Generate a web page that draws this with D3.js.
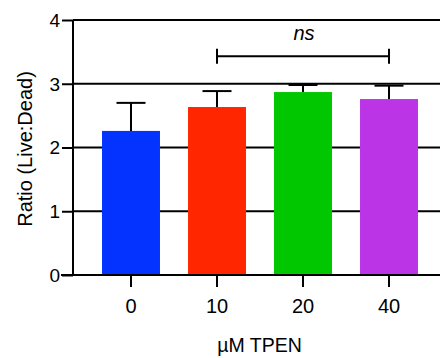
<!DOCTYPE html>
<html><head><meta charset="utf-8">
<script src="https://cdn.jsdelivr.net/npm/d3@7"></script>
<style>body{margin:0;background:#fff;} svg{display:block;}</style>
</head><body>
<svg id="c" width="440" height="358"></svg>
<script>
const categories = ["0", "10", "20", "40"];
const means = [2.26, 2.635, 2.87, 2.76];
const errors = [0.44, 0.25, 0.11, 0.21];
const colors = ["#0433ff", "#ff2600", "#00c700", "#bb35e6"];
const yTicks = [0, 1, 2, 3, 4];
const xTitle = "\u00b5M TPEN";
const yTitle = "Ratio (Live:Dead)";
const sigLabel = "ns";
const sigPair = ["10", "40"];

const svg = d3.select("#c");
const font = "Liberation Sans, Arial, sans-serif";
const x = d3.scaleBand().domain(categories).range([88, 432]).paddingInner(0.326).paddingOuter(0.163);
const y = d3.scaleLinear().domain([0, 4]).range([275, 20]);
const x0 = 73, xEnd = 440;

// gridlines
svg.append("g").selectAll("line").data(yTicks.slice(1)).join("line")
  .attr("x1", x0).attr("x2", xEnd).attr("y1", d => y(d)).attr("y2", d => y(d))
  .attr("stroke", "#000").attr("stroke-width", 2);

// bars
svg.append("g").selectAll("rect").data(categories).join("rect")
  .attr("x", d => x(d)).attr("width", x.bandwidth())
  .attr("y", (d, i) => y(means[i])).attr("height", (d, i) => y(0) - y(means[i]))
  .attr("fill", (d, i) => colors[i]);

// error bars
const eb = svg.append("g").attr("stroke", "#000").attr("stroke-width", 2);
categories.forEach((c, i) => {
  const cx = x(c) + x.bandwidth() / 2;
  eb.append("line").attr("x1", cx).attr("x2", cx).attr("y1", y(means[i])).attr("y2", y(means[i] + errors[i]));
  eb.append("line").attr("x1", cx - 14.5).attr("x2", cx + 14.5).attr("y1", y(means[i] + errors[i])).attr("y2", y(means[i] + errors[i]));
});

// y axis
const ya = svg.append("g").attr("transform", `translate(${x0},0)`)
  .call(d3.axisLeft(y).tickValues(yTicks).tickSize(11).tickPadding(2).tickFormat(d3.format("d")));
ya.select(".domain").attr("stroke-width", 2).attr("d", `M0,${y(0)}V${y(4)}`);
ya.selectAll(".tick line").attr("stroke-width", 2);
ya.selectAll(".tick text").attr("font-family", font).attr("font-size", 19).attr("fill", "#000").attr("dy", "0.33em");

// x axis
const xa = svg.append("g").attr("transform", `translate(0,${y(0)})`)
  .call(d3.axisBottom(x).tickSize(12).tickPadding(6));
xa.select(".domain").attr("stroke-width", 2).attr("d", `M${x0 - 12},0H${xEnd}`);
xa.selectAll(".tick line").attr("stroke-width", 2);
xa.selectAll(".tick text").attr("font-family", font).attr("font-size", 20).attr("fill", "#000")
  .attr("y", 37.5).attr("dy", 0);

// significance
const sx1 = x(sigPair[0]) + x.bandwidth() / 2, sx2 = x(sigPair[1]) + x.bandwidth() / 2;
const sy = y(3.43);
const sg = svg.append("g").attr("stroke", "#000").attr("stroke-width", 2);
sg.append("line").attr("x1", sx1).attr("x2", sx2).attr("y1", sy).attr("y2", sy);
sg.append("line").attr("x1", sx1).attr("x2", sx1).attr("y1", sy - 7.5).attr("y2", sy + 7.5);
sg.append("line").attr("x1", sx2).attr("x2", sx2).attr("y1", sy - 7.5).attr("y2", sy + 7.5);
svg.append("text").attr("x", (sx1 + sx2) / 2 + 1).attr("y", 40).attr("text-anchor", "middle")
  .attr("font-family", font).attr("font-style", "italic").attr("font-size", 20).text(sigLabel);

// titles
svg.append("text").attr("x", 259.5).attr("y", 352).attr("text-anchor", "middle")
  .attr("font-family", font).attr("font-size", 19.5).text(xTitle);
svg.append("text").attr("transform", `translate(32,149) rotate(-90)`).attr("text-anchor", "middle")
  .attr("font-family", font).attr("font-size", 20).text(yTitle);
</script>
</body></html>
